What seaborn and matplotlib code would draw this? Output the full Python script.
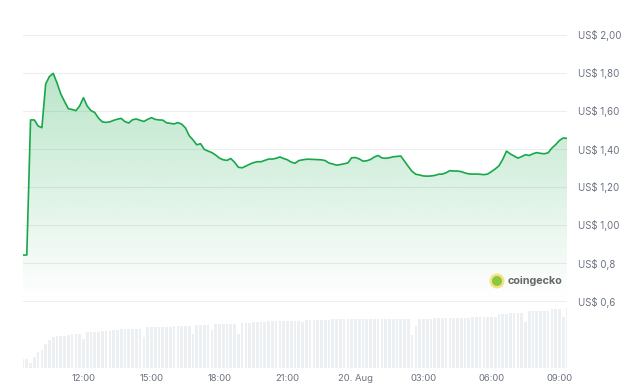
import matplotlib

matplotlib.use("Agg")
import matplotlib.dates as mdates
import matplotlib.pyplot as plt
import numpy as np
import pandas as pd
import seaborn as sns
from matplotlib.colors import to_rgb
from matplotlib.patches import Ellipse
from matplotlib.ticker import FuncFormatter

# 10-minute samples, 19 Aug 09:20 -> 20 Aug 09:20
times = pd.date_range("2024-08-19 09:20", periods=145, freq="10min")

price = [
    0.842, 0.842, 1.553, 1.553, 1.521, 1.512, 1.742, 1.782, 1.798, 1.748,
    1.690, 1.650, 1.612, 1.608, 1.602, 1.627, 1.670, 1.626, 1.602, 1.592,
    1.562, 1.543, 1.540, 1.543, 1.551, 1.557, 1.561, 1.544, 1.537, 1.554,
    1.558, 1.551, 1.545, 1.556, 1.565, 1.556, 1.553, 1.552, 1.538, 1.535,
    1.532, 1.539, 1.531, 1.511, 1.470, 1.448, 1.422, 1.428, 1.398, 1.389,
    1.381, 1.368, 1.352, 1.343, 1.340, 1.350, 1.330, 1.304, 1.301, 1.310,
    1.320, 1.328, 1.333, 1.333, 1.340, 1.347, 1.347, 1.351, 1.358, 1.350,
    1.343, 1.331, 1.325, 1.339, 1.343, 1.346, 1.346, 1.345, 1.344, 1.343,
    1.339, 1.326, 1.321, 1.315, 1.318, 1.322, 1.327, 1.354, 1.355, 1.348,
    1.336, 1.338, 1.345, 1.358, 1.366, 1.353, 1.351, 1.354, 1.359, 1.361,
    1.363, 1.335, 1.308, 1.282, 1.267, 1.263, 1.258, 1.257, 1.258, 1.261,
    1.267, 1.268, 1.275, 1.286, 1.284, 1.284, 1.281, 1.274, 1.269, 1.268,
    1.268, 1.267, 1.265, 1.268, 1.281, 1.295, 1.312, 1.346, 1.389, 1.374,
    1.363, 1.352, 1.360, 1.370, 1.366, 1.375, 1.381, 1.377, 1.375, 1.380,
    1.405, 1.423, 1.445, 1.458, 1.456,
]

# relative traded volume (arbitrary units)
volume = [
    9.4, 9.4, 5.0, 11.0, 16.0, 17.7, 24.4, 28.0, 31.5, 32.0,
    32.0, 32.2, 33.4, 34.0, 34.4, 34.4, 29.5, 36.0, 36.0, 36.1,
    36.4, 37.2, 37.4, 37.4, 37.7, 38.4, 38.9, 38.9, 38.9, 39.0,
    39.2, 39.4, 31.0, 40.7, 40.7, 40.9, 40.9, 41.0, 41.0, 41.2,
    41.7, 41.7, 41.7, 41.9, 41.9, 34.5, 42.8, 42.9, 43.0, 43.0,
    38.4, 43.7, 43.7, 43.7, 43.7, 43.8, 43.9, 34.4, 45.4, 45.4,
    45.5, 45.6, 45.6, 45.7, 46.5, 47.0, 47.0, 47.0, 47.1, 47.1,
    47.2, 47.2, 47.3, 47.3, 46.0, 48.4, 48.4, 48.4, 48.5, 48.5,
    48.5, 48.5, 48.6, 48.6, 48.6, 48.7, 48.7, 48.8, 48.8, 48.9,
    49.0, 49.4, 49.4, 49.4, 49.4, 49.4, 49.5, 49.5, 49.5, 49.5,
    49.5, 49.5, 49.5, 33.0, 42.0, 49.4, 49.4, 49.5, 49.5, 49.6,
    49.6, 49.7, 50.4, 50.4, 50.4, 50.4, 50.5, 50.5, 50.5, 50.6,
    51.0, 51.0, 51.0, 51.1, 51.1, 51.5, 54.4, 54.4, 54.5, 55.0,
    55.0, 55.0, 55.1, 46.0, 57.0, 57.0, 57.0, 57.1, 57.1, 57.2,
    59.4, 59.4, 59.5, 51.0, 60.4,
]

price_ticks = [0.6, 0.8, 1.0, 1.2, 1.4, 1.6, 1.8, 2.0]
price_labels = ["US$ 0,6", "US$ 0,8", "US$ 1,00", "US$ 1,20",
                "US$ 1,40", "US$ 1,60", "US$ 1,80", "US$ 2,00"]

LINE = "#17a849"
GREY = "#6b7280"

sns.set_theme(style="white")
plt.rcParams["font.family"] = ["Inter", "DejaVu Sans"]

fig = plt.figure(figsize=(6.3, 3.91), dpi=100)
ax = fig.add_axes([23 / 630, 23 / 391, 544 / 630, 368 / 391])
vax = ax.twinx()

df = pd.DataFrame({"time": times, "price": price})
sns.lineplot(data=df, x="time", y="price", ax=ax, color=LINE,
             linewidth=1.2, zorder=3)

# gradient fill under the price line
tnum = mdates.date2num(times)
grad = np.zeros((256, 1, 4))
grad[:, :, :3] = to_rgb(LINE)
grad[:, 0, 3] = np.linspace(0.0, 0.30, 256)
im = ax.imshow(grad, aspect="auto", origin="lower", zorder=2,
               extent=[tnum[0], tnum[-1], 0.6, 1.82])
poly = ax.fill_between(tnum, price, 0.6, facecolor="none", edgecolor="none")
im.set_clip_path(poly.get_paths()[0], transform=ax.transData)

ax.set_xlim(tnum[0], tnum[-1])
ax.set_ylim(0.6 - 67 / 190, 0.6 + 301 / 190)
ax.set_yticks(price_ticks)
ax.set_yticklabels(price_labels)
ax.yaxis.tick_right()
ax.grid(axis="y", color="#eeeeee", linewidth=0.8)
ax.grid(axis="x", visible=False)
ax.set_xlabel("")
ax.set_ylabel("")
ax.tick_params(axis="y", length=0, pad=8, labelsize=7, labelcolor=GREY)
ax.tick_params(axis="x", length=0, pad=4, labelsize=6.8, labelcolor=GREY)

ax.xaxis.set_major_locator(mdates.HourLocator(byhour=range(0, 24, 3)))


def fmt_time(x, pos):
    d = mdates.num2date(x)
    if d.hour == 0:
        return f"{d.day}. {d.strftime('%b')}"
    return d.strftime("%H:%M")


ax.xaxis.set_major_formatter(FuncFormatter(fmt_time))

# volume bars along the bottom
vax.bar(tnum, volume, width=7 / 1440, color="#edf0f3", linewidth=0, zorder=1)
vax.set_ylim(0, 368)
vax.set_yticks([])
vax.grid(False)
vax.set_xlim(tnum[0], tnum[-1])

for a in (ax, vax):
    for s in a.spines.values():
        s.set_visible(False)

# watermark
cx, cy = 497 / 630, 1 - 281 / 391
fig.add_artist(Ellipse((cx, cy), 15 / 630, 15 / 391, transform=fig.transFigure,
                       facecolor="#f4e385", edgecolor="none"))
fig.add_artist(Ellipse((cx, cy), 10 / 630, 10 / 391, transform=fig.transFigure,
                       facecolor="#8cc83f", edgecolor="none"))
fig.text(508 / 630, cy, "coingecko", fontsize=7.8, fontweight="bold",
         color="#666666", va="center", ha="left")

fig.savefig("out.png", dpi=100)
